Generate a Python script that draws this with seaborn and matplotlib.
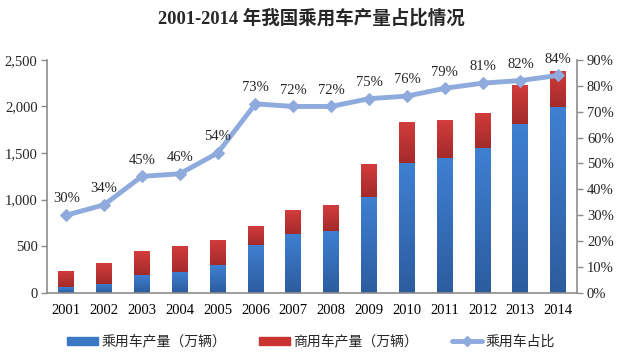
import numpy as np
import pandas as pd
import matplotlib
matplotlib.use("Agg")
import matplotlib.pyplot as plt
from matplotlib.lines import Line2D
from matplotlib.patches import Patch
from matplotlib.colors import LinearSegmentedColormap
from matplotlib.ticker import FuncFormatter, MultipleLocator
import seaborn as sns

# dados
years = ["2001", "2002", "2003", "2004", "2005", "2006", "2007",
         "2008", "2009", "2010", "2011", "2012", "2013", "2014"]
passenger = [60, 100, 195, 228, 300, 515, 635, 668, 1033, 1388, 1449, 1555, 1810, 1995]
commercial = [177, 225, 255, 277, 270, 205, 255, 272, 347, 442, 401, 380, 415, 390]
share = [30, 34, 45, 46, 54, 73, 72, 72, 75, 76, 79, 81, 82, 84]

label_passenger = "乘用车产量（万辆）"
label_commercial = "商用车产量（万辆）"
label_share = "乘用车占比"
title = "2001-2014 年我国乘用车产量占比情况"

sns.set_theme(style="white")
plt.rcParams['font.family'] = ['Liberation Serif', 'Noto Sans CJK SC', 'DejaVu Sans']

df = pd.DataFrame({"year": years, "passenger": passenger, "commercial": commercial,
                   "share": share})
df["total"] = df["passenger"] + df["commercial"]
df["pos"] = np.arange(len(df))

blue = "#3A78C6"
red = "#C93433"
line_c = "#8FAADC"
gray = "#8C8C8C"

# gradientes verticais (escuro embaixo, claro em cima)
cmap_blue = LinearSegmentedColormap.from_list("b", ["#2C5C9E", "#3F80D2"])
cmap_red = LinearSegmentedColormap.from_list("r", ["#A42A2A", "#D23C3C"])

fig = plt.figure(figsize=(6.22, 3.52), dpi=100)
ax = fig.add_axes([0.076, 0.168, 0.852, 0.662])

# barras empilhadas: total (vermelho) por baixo, passageiros (azul) por cima
sns.barplot(data=df, x="year", y="total", color=red, width=0.42, saturation=1, ax=ax)
n_red = len(ax.patches)
sns.barplot(data=df, x="year", y="passenger", color=blue, width=0.42, saturation=1, ax=ax)

ax.set_ylim(0, 2500)
ax.set_xlim(-0.5, len(df) - 0.5)

# aplica o degradê em cada barra
grad = np.linspace(0, 1, 100).reshape(-1, 1)
for i, p in enumerate(ax.patches):
    x0, y0 = p.get_x(), p.get_y()
    w, h = p.get_width(), p.get_height()
    if i < n_red:
        cm = cmap_red
        y0 = df["passenger"].iloc[i]
        h = df["total"].iloc[i] - y0
    else:
        cm = cmap_blue
    im = ax.imshow(grad, cmap=cm, aspect="auto", origin="lower",
                   extent=[x0, x0 + w, y0, y0 + h], zorder=p.get_zorder() + 0.1)
    im.set_clip_path(p)

ax.set_xlim(-0.5, len(df) - 0.5)
ax.set_ylim(0, 2500)
ax.yaxis.set_major_locator(MultipleLocator(500))
ax.yaxis.set_major_formatter(FuncFormatter(lambda v, p: f"{int(v):,}"))
ax.set_xlabel("")
ax.set_ylabel("")
ax.set_xticks(np.arange(len(df)))
ax.set_xticklabels(years)
ax.set_xticks(np.arange(len(df) + 1) - 0.5, minor=True)
ax.tick_params(axis="x", which="major", length=0, pad=8, labelsize=10.5, colors="black")
ax.tick_params(axis="x", which="minor", length=4, color=gray, width=1)
ax.tick_params(axis="y", length=4, color=gray, width=1, labelsize=10.5, pad=3, left=True)

for s in ["left", "bottom"]:
    ax.spines[s].set_color(gray)
    ax.spines[s].set_linewidth(1.2)
ax.spines["top"].set_visible(False)
ax.spines["right"].set_visible(False)

# linha de participação no eixo secundário
ax2 = ax.twinx()
sns.lineplot(data=df, x="pos", y="share", color=line_c, linewidth=3.5, marker="D",
             markersize=6.5, markeredgecolor=line_c, ax=ax2)
ax2.set_ylim(0, 90)
ax2.set_xlim(-0.5, len(df) - 0.5)
ax2.yaxis.set_major_locator(MultipleLocator(10))
ax2.yaxis.set_major_formatter(FuncFormatter(lambda v, p: f"{int(v)}%"))
ax2.set_ylabel("")
ax2.tick_params(axis="y", length=4, color=gray, width=1, labelsize=10.5, pad=3, right=True)
ax2.spines["right"].set_color(gray)
ax2.spines["right"].set_linewidth(1.2)
for s in ["top", "left", "bottom"]:
    ax2.spines[s].set_visible(False)

for x, v in zip(df["pos"], df["share"]):
    ax2.annotate(f"{v}%", (x, v), xytext=(0, 7), textcoords="offset points",
                 ha="center", va="bottom", fontsize=10.5)

fig.suptitle(title, x=0.5, y=0.975, fontsize=13.3, fontweight="bold")

handles = [Patch(color=blue), Patch(color=red),
           Line2D([], [], color=line_c, linewidth=3.5, marker="D", markersize=5)]
fig.legend(handles, [label_passenger, label_commercial, label_share],
           loc="center", bbox_to_anchor=(0.5, 1 - 342 / 352), ncol=3, frameon=False,
           fontsize=10, handlelength=2.2, handleheight=0.55, columnspacing=2.4,
           handletextpad=0.25)

fig.savefig("out.png", dpi=100)
